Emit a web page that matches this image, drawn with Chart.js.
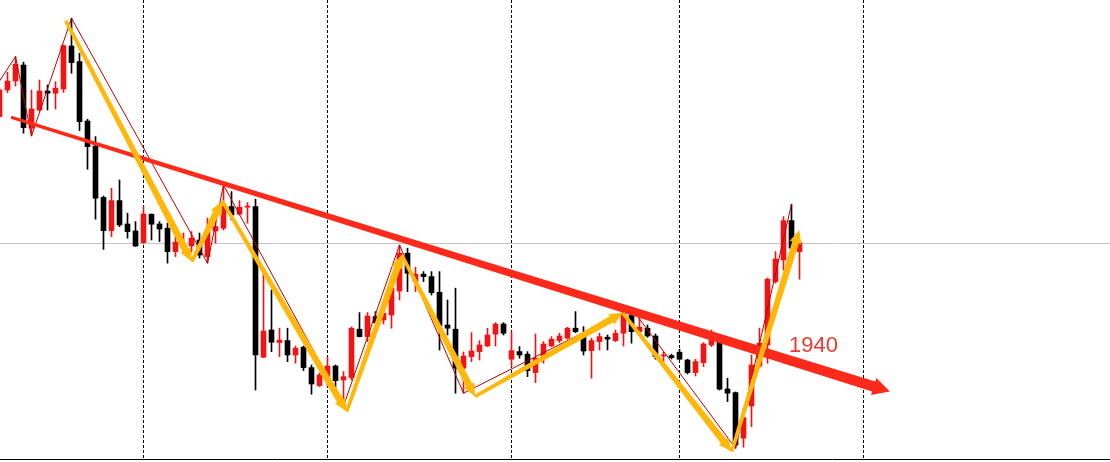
<!DOCTYPE html>
<html><head><meta charset="utf-8">
<script src="https://cdn.jsdelivr.net/npm/chart.js@4.4.1/dist/chart.umd.min.js"></script>
<style>html,body{margin:0;padding:0;background:#fff;overflow:hidden}canvas{display:block}</style>
</head><body>
<canvas id="c" width="1110" height="462"></canvas>
<script>
// ---- candle data (index 0..100) ----
const opens = [2056.7,2070,2074.5,2082.5,2050.9,2060,2069.5,2068.4,2070.5,2092,
2084.2,2054.5,2042,2016.3,1999.7,2014.7,2003,1999.5,1993.7,2007.9,
2003,2000.9,1989.2,1991,1992,1995,1986.7,1999.5,2000.9,2011.7,
2007.9,2011.4,2011.7,1936.4,1950,1943.7,1944.7,1937.5,1941.4,1931.2,
1922.2,1926.4,1932,1925,1926.2,1950.4,1946.7,1956.7,1955,1957.5,
1969.5,1988.4,1974.2,1977.9,1976.7,1968.9,1952.5,1950.4,1930.9,1936.7,
1939.2,1942,1947.9,1953,1935.4,1939.2,1937.9,1928.7,1936.7,1942,
1944.7,1945.9,1950.9,1947.5,1939.7,1944.2,1946.4,1944.7,1948.4,1957.5,
1949.2,1950.9,1947,1937,1937.2,1938.9,1935,1928.7,1933.7,1942.5,
1944.2,1920.5,1918.7,1895.9,1912,1932,1942.5,1974.2,1985,2004.7,1989.2];
const highs = [2071,2078.9,2086.7,2083.9,2070,2075,2072.5,2074.2,2092.5,2105.9,
2088.4,2055.4,2046.7,2017,2020.9,2025,2008.4,2004.2,2011.7,2008,
2004.2,2003.4,1996.7,1998.5,1999.2,1998.5,2006,2006.7,2022.5,2019.2,
2014.7,2013.7,2015.4,1978.4,1970,1950.9,1950.9,1942,1942,1932.5,
1928.4,1936.4,1932.5,1929.2,1951.5,1958.7,1958.7,1959.2,1961.5,1976.7,
1992.5,1990.9,1981.4,1979.2,1979.2,1979.2,1965,1970.9,1939,1948.7,
1944.7,1950.9,1953.7,1953.7,1949.2,1941.7,1939.2,1948,1944.2,1946.7,
1948.4,1951.4,1959.2,1951.7,1945.9,1948.4,1947.5,1950,1959.2,1960.9,
1955.9,1952.5,1948,1939,1937.9,1940.4,1935.4,1935.4,1943.7,1950,
1944.7,1925.9,1919,1910.9,1937.5,1950.9,1976,1989.2,2006.7,2012.9,1995];
const lows = [2056,2068.7,2072,2048.4,2047,2059.5,2060,2060.5,2068.8,2078.4,
2049.7,2030.4,2005.4,1990.3,1996.7,2001.7,1995.9,1991.7,1993.3,1995,
1994.2,1983.4,1986.7,1989,1989,1986,1983.4,1993.5,2000,2005,
2007.5,2003.4,1920,1936.3,1939.2,1936.7,1934.2,1933.4,1929.7,1917.9,
1921.7,1921.7,1920.9,1912,1925,1946.5,1944.2,1953.3,1953,1950.9,
1965,1969.2,1969.2,1974.2,1967.5,1940,1947.5,1918.4,1918.4,1934.2,
1935,1941.7,1942,1947.5,1931.7,1935.9,1926.7,1923.7,1933.4,1941.7,
1943.7,1945.4,1948.7,1937.5,1925.9,1940,1940,1944.2,1942,1943.4,
1948,1946.4,1935.4,1934,1935.5,1935,1928,1927,1931.7,1941.7,
1920,1914.2,1890.9,1891.4,1901.7,1931,1933.4,1973.4,1980,1989.2,1975.4];
const closes = [2070,2074.5,2082.9,2051.2,2060.5,2069.5,2068.4,2070.9,2092.2,2083.7,
2054.2,2041.7,2015.9,1999.7,2014.7,2002.5,1999.2,1992,2008,2002.9,
2000.5,1989.2,1993.9,1992.5,1995.9,1987.5,1999.2,2001.7,2011.7,2007.5,
2011.4,2012,1937.5,1949.5,1943.9,1945,1937.5,1940.9,1931.2,1923,
1927.5,1932,1924.7,1926.7,1950.9,1946.7,1957,1953.7,1958.4,1970.9,
1988.4,1978.4,1977.9,1976.7,1968.7,1952.2,1950.9,1930.9,1937,1939.5,
1942.5,1947.5,1953,1948.4,1939.7,1937.5,1929.7,1935.9,1943,1945.4,
1947,1950.9,1949.2,1939.5,1944.7,1946.7,1945.4,1948.4,1958.4,1949.2,
1951.4,1947,1936.7,1937.3,1936.2,1935.4,1928.7,1934.2,1943,1945,
1920.4,1918.4,1892.5,1906.2,1932.5,1943.4,1975.4,1985.5,2004.7,1990.9,1993.7];

// ---- session separators (candle index) ----
const separatorIdx = [18, 41, 64, 85, 108];

// ---- thin zigzag indicator ----
const zigzagIdx = [0, 2, 4, 9, 26, 28, 43, 50, 58, 79, 92, 99];
const zigzagPrice = [2074.5, 2086.7, 2047, 2105.9, 1983.4, 2022.5, 1912, 1992.5, 1918.4, 1960.9, 1890.9, 2012.9];

// ---- drawn trend line (red arrow) ----
const trendIdx = [1.44, 111.3];
const trendPrice = [2056.4, 1919.2];

// ---- drawn swing arrows (yellow) ----
const swingIdx = [8.28, 24.03, 27.85, 43.4, 50.28, 59.44, 77.9, 91.53, 99.98];
const swingPrice = [2104.7, 1984.2, 2014.5, 1909.2, 1987.5, 1916.7, 1958.6, 1889.2, 2000];

// ---- label ----
const labelText = '1940';
const labelIdx = 98.7;
const labelPrice = 1938.8;

const RED = '#f01414', BLACK = '#000000';
const idx = opens.map((_, i) => i);
const candleColors = closes.map((c, i) => c >= opens[i] ? RED : BLACK);

function arrow(ctx, x0, y0, x1, y1, w0, w1, hw, hl, color) {
  const dx = x1 - x0, dy = y1 - y0, len = Math.hypot(dx, dy);
  const ux = dx / len, uy = dy / len, nx = -uy, ny = ux;
  const sx = x1 - ux * hl, sy = y1 - uy * hl;
  ctx.beginPath();
  ctx.moveTo(x0 + nx * w0 / 2, y0 + ny * w0 / 2);
  ctx.lineTo(sx + nx * w1 / 2, sy + ny * w1 / 2);
  ctx.lineTo(sx + nx * hw / 2, sy + ny * hw / 2);
  ctx.lineTo(x1, y1);
  ctx.lineTo(sx - nx * hw / 2, sy - ny * hw / 2);
  ctx.lineTo(sx - nx * w1 / 2, sy - ny * w1 / 2);
  ctx.lineTo(x0 - nx * w0 / 2, y0 - ny * w0 / 2);
  ctx.closePath();
  ctx.fillStyle = color;
  ctx.fill();
}

const bgPlugin = {
  id: 'bg',
  beforeDatasetsDraw(chart) {
    const ctx = chart.ctx, xs = chart.scales.x, ys = chart.scales.y, a = chart.chartArea;
    ctx.save();
    ctx.fillStyle = '#fff';
    ctx.fillRect(0, 0, chart.width, chart.height);
    // current price line
    const py = Math.round(ys.getPixelForValue(closes[closes.length - 1])) + 0.5;
    ctx.strokeStyle = '#c4c4c4'; ctx.lineWidth = 1;
    ctx.beginPath(); ctx.moveTo(0, py); ctx.lineTo(chart.width, py); ctx.stroke();
    // separators
    ctx.strokeStyle = '#000'; ctx.setLineDash([3, 2]);
    separatorIdx.forEach(s => {
      const px = Math.floor(xs.getPixelForValue(s)) + 0.5;
      ctx.beginPath(); ctx.moveTo(px, 0); ctx.lineTo(px, a.bottom); ctx.stroke();
    });
    ctx.setLineDash([]);
    // bottom frame
    ctx.beginPath(); ctx.moveTo(0, a.bottom - 0.5); ctx.lineTo(chart.width, a.bottom - 0.5); ctx.stroke();
    ctx.restore();
  },
  afterDatasetsDraw(chart) {
    const ctx = chart.ctx, xs = chart.scales.x, ys = chart.scales.y;
    ctx.save();
    // zigzag
    ctx.strokeStyle = '#c00000'; ctx.lineWidth = 1;
    ctx.beginPath();
    zigzagIdx.forEach((v, i) => {
      const px = xs.getPixelForValue(v), py = ys.getPixelForValue(zigzagPrice[i]);
      i ? ctx.lineTo(px, py) : ctx.moveTo(px, py);
    });
    ctx.stroke();
    // trend arrow
    arrow(ctx, xs.getPixelForValue(trendIdx[0]), ys.getPixelForValue(trendPrice[0]),
      xs.getPixelForValue(trendIdx[1]), ys.getPixelForValue(trendPrice[1]), 3, 10.5, 18, 17, '#fd2a1c');
    // swing arrows
    for (let i = 0; i < swingIdx.length - 1; i++) {
      arrow(ctx, xs.getPixelForValue(swingIdx[i]), ys.getPixelForValue(swingPrice[i]),
        xs.getPixelForValue(swingIdx[i + 1]), ys.getPixelForValue(swingPrice[i + 1]), 3.5, 7, 12, 13, '#ffb70a');
    }
    // label
    ctx.fillStyle = '#ec3a30';
    ctx.font = '22px "Liberation Sans", Arial, sans-serif';
    ctx.textBaseline = 'alphabetic';
    ctx.fillText(labelText, xs.getPixelForValue(labelIdx), ys.getPixelForValue(labelPrice));
    ctx.restore();
  }
};

new Chart(document.getElementById('c'), {
  type: 'bar',
  data: {
    datasets: [
      {
        label: 'body',
        data: idx.map(i => ({ x: i, y: [opens[i], closes[i]] })),
        backgroundColor: candleColors,
        barThickness: 5,
        minBarLength: 1,
        grouped: false,
        borderWidth: 0,
        order: 1
      },
      {
        label: 'wick',
        data: idx.map(i => ({ x: i, y: [lows[i], highs[i]] })),
        backgroundColor: candleColors,
        barThickness: 1,
        grouped: false,
        borderWidth: 0,
        order: 2
      }
    ]
  },
  options: {
    responsive: false,
    animation: false,
    devicePixelRatio: 1,
    layout: { padding: { left: 0, right: 0, top: 0, bottom: 2 } },
    plugins: { legend: { display: false }, tooltip: { enabled: false } },
    scales: {
      x: { type: 'linear', min: 0.0625, max: 138.8125, offset: false, display: false, grid: { offset: false } },
      y: { type: 'linear', min: 1885, max: 2115, display: false }
    }
  },
  plugins: [bgPlugin]
});
</script>
</body></html>
